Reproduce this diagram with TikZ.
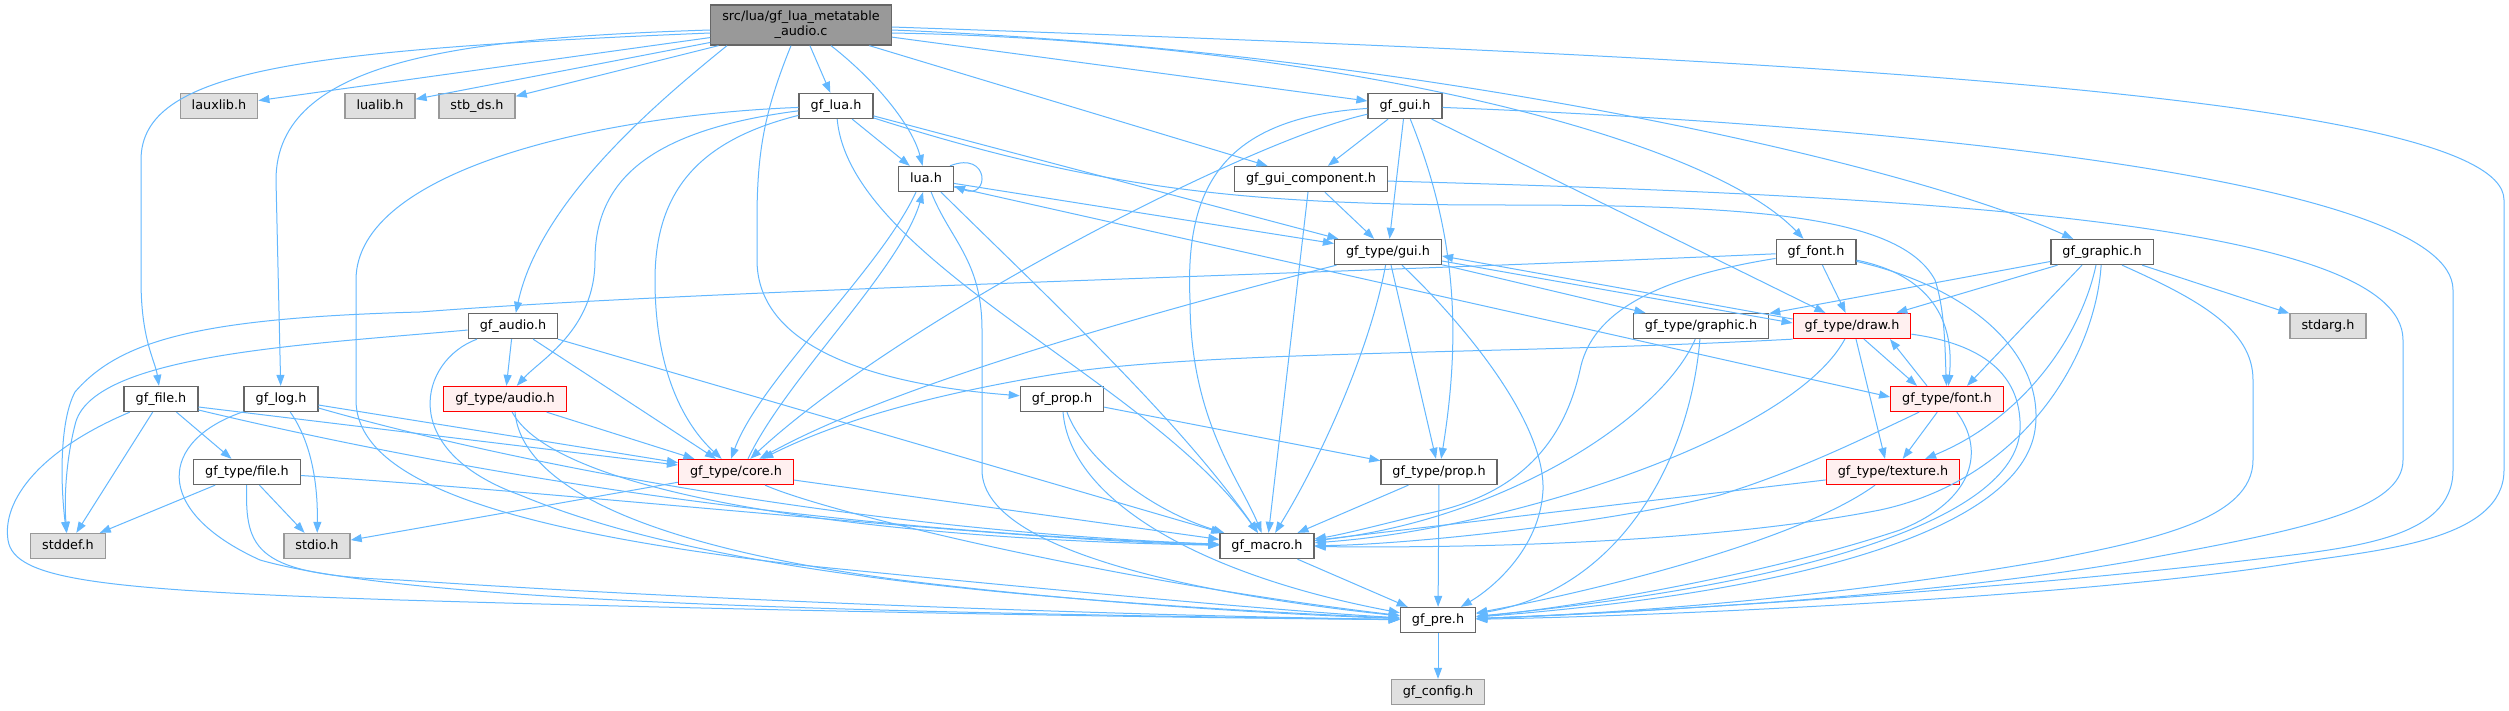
\documentclass[tikz,border=0pt]{standalone}
\usepackage{fontspec}
\setmainfont{DejaVu Sans}
\usepackage{tikz}
\usetikzlibrary{arrows.meta}
\definecolor{edgeblue}{HTML}{63B8FF}
\definecolor{boxline}{HTML}{666666}
\definecolor{rootfill}{HTML}{999999}
\definecolor{sysfill}{HTML}{E0E0E0}
\definecolor{sysline}{HTML}{999999}
\definecolor{cutfill}{HTML}{FFF0F0}
\definecolor{cutline}{HTML}{FF0000}

\tikzset{
  basebox/.style={draw=boxline, fill=white, line width=1.3pt,
    font=\fontsize{12.8}{15}\selectfont, inner xsep=11.5pt, inner ysep=0pt},
  hdr/.style={basebox, minimum height=25pt, text height=9.4pt, text depth=2.6pt},
  syshdr/.style={hdr, draw=sysline, fill=sysfill},
  cuthdr/.style={hdr, draw=cutline, fill=cutfill},
  roothdr/.style={basebox, fill=rootfill, align=center, minimum height=40pt},
  dep/.style={draw=edgeblue, line width=1pt, -{Triangle[length=11pt,width=8pt]}}
}

\begin{document}
\begin{tikzpicture}[x=1pt, y=-1pt]
  % page: 1 unit = 1 px of the graph
  \fill[white] (0,0) rectangle (2509,711);
  \useasboundingbox (0,0) rectangle (2509,711);

  % --- headers, row by row ---
  \node[roothdr] (R) at (801,25) {src/lua/gf\_lua\_metatable\\\_audio.c};
  \node[syshdr] (lauxlib) at (219,106) {lauxlib.h};
  \node[syshdr] (lualib) at (380,106) {lualib.h};
  \node[syshdr] (stbds) at (477,106) {stb\_ds.h};
  \node[hdr] (gflua) at (836,106) {gf\_lua.h};
  \node[hdr] (gfgui) at (1405,106) {gf\_gui.h};
  \node[hdr] (luah) at (926,179) {lua.h};
  \node[hdr] (gfguicomp) at (1311,179) {gf\_gui\_component.h};
  \node[hdr] (tgui) at (1388,252) {gf\_type/gui.h};
  \node[hdr] (gffont) at (1816,252) {gf\_font.h};
  \node[hdr] (gfgraphic) at (2102,252) {gf\_graphic.h};
  \node[hdr] (audio) at (513,326) {gf\_audio.h};
  \node[hdr] (tgraphic) at (1701,326) {gf\_type/graphic.h};
  \node[cuthdr] (tdraw) at (1852,326) {gf\_type/draw.h};
  \node[syshdr] (stdarg) at (2328,326) {stdarg.h};
  \node[hdr] (gffile) at (161,399) {gf\_file.h};
  \node[hdr] (gflog) at (281,399) {gf\_log.h};
  \node[cuthdr] (taudio) at (505,399) {gf\_type/audio.h};
  \node[hdr] (gfprop) at (1062,399) {gf\_prop.h};
  \node[cuthdr] (tfont) at (1947,399) {gf\_type/font.h};
  \node[hdr] (tfile) at (247,472) {gf\_type/file.h};
  \node[cuthdr] (tcore) at (736,472) {gf\_type/core.h};
  \node[hdr] (tprop) at (1439,472) {gf\_type/prop.h};
  \node[cuthdr] (ttexture) at (1893,472) {gf\_type/texture.h};
  \node[syshdr] (stddef) at (68,546) {stddef.h};
  \node[syshdr] (stdio) at (317,546) {stdio.h};
  \node[hdr] (gfmacro) at (1267,546) {gf\_macro.h};
  \node[hdr] (gfpre) at (1438,620) {gf\_pre.h};
  \node[syshdr] (gfconfig) at (1438,692) {gf\_config.h};

  % --- root file ---
  \draw[dep] (R) -- (lauxlib);
  \draw[dep] (R) -- (lualib);
  \draw[dep] (R) -- (stbds);
  \draw[dep] (R) -- (gflua);
  \draw[dep] ([xshift=30pt]R.south) .. controls (875,80) and (912,125) .. (luah);
  \draw[dep] (R) -- (gfguicomp);
  \draw[dep] (R) -- (gfgui);
  \draw[dep] ([yshift=-8pt]R.west) .. controls (300,50) and (141,70) .. (141,160)
    -- (141,280) .. controls (141,340) and (155,360) .. (gffile);
  \draw[dep] ([yshift=-5pt]R.west) .. controls (460,38) and (276,60) .. (276,180) -- (gflog);
  \draw[dep] ([xshift=-74pt]R.south) .. controls (660,100) and (540,200) .. (audio);
  \draw[dep] ([xshift=-10pt]R.south) .. controls (765,110) and (757,150) .. (757,220)
    -- (757,260) .. controls (757,350) and (880,385) .. (gfprop);
  \draw[dep] ([yshift=-8pt]R.east) .. controls (1300,40) and (1700,130) .. (gffont);
  \draw[dep] ([yshift=-5pt]R.east) .. controls (1400,50) and (1900,160) .. (gfgraphic);
  \draw[dep] ([yshift=-2pt]R.east) .. controls (1700,55) and (2504,90) .. (2504,200)
    -- (2504,470) .. controls (2504,540) and (2380,550) .. (2300,562)
    .. controls (2100,595) and (1700,615) .. (gfpre);

  % --- gf_lua.h ---
  \draw[dep] (gflua) -- (luah);
  \draw[dep] (gflua) -- (tgui);
  \draw[dep] (gflua) .. controls (1100,190) and (1250,205) .. (1500,205)
    .. controls (1750,205) and (1900,215) .. (1935,280)
    .. controls (1945,310) and (1945,350) .. (tfont);
  \draw[dep] (gflua) .. controls (700,140) and (655,190) .. (655,280)
    .. controls (655,380) and (690,430) .. (tcore);
  \draw[dep] (gflua) .. controls (650,130) and (595,180) .. (595,260)
    .. controls (595,330) and (540,360) .. (taudio);
  \draw[dep] (gflua) .. controls (600,115) and (356,170) .. (356,280) -- (356,400)
    .. controls (356,480) and (500,530) .. (800,565)
    .. controls (1100,595) and (1300,612) .. (gfpre);
  \draw[dep] (gflua) .. controls (850,260) and (1150,380) .. (gfmacro);

  % --- lua.h ---
  \draw[dep] ([xshift=-4pt]luah.north east) .. controls (990,150) and (990,200) .. ([yshift=-7pt]luah.east);
  \draw[dep] ([xshift=-10pt]luah.south) .. controls (880,270) and (760,380) .. ([xshift=-5pt]tcore.north);
  \draw[dep] (luah) .. controls (950,240) and (982,260) .. (982,330) -- (982,470)
    .. controls (982,560) and (1250,600) .. (gfpre);
  \draw[dep] ([xshift=15pt]luah.south) .. controls (1040,290) and (1180,420) .. (gfmacro);
  \draw[dep] (luah) -- (tgui);
  \draw[dep] ([yshift=-8pt]luah.east) -- ([yshift=2pt]tfont.west);

  % --- gf_gui.h ---
  \draw[dep] (gfgui) -- (gfguicomp);
  \draw[dep] (gfgui) -- (tgui);
  \draw[dep] (gfgui) .. controls (1455,230) and (1462,330) .. (tprop);
  \draw[dep] (gfgui) -- (tdraw);
  \draw[dep] (gfgui) .. controls (1900,125) and (2453,180) .. (2453,290) -- (2453,470)
    .. controls (2453,540) and (2350,548) .. (2250,560)
    .. controls (2000,590) and (1650,612) .. (gfpre);
  \draw[dep] (gfgui) .. controls (1250,140) and (900,320) .. (tcore);
  \draw[dep] (gfgui) .. controls (1220,118) and (1185,190) .. (1190,300)
    .. controls (1190,420) and (1240,480) .. (gfmacro);

  % --- gf_gui_component.h ---
  \draw[dep] (gfguicomp) -- (tgui);
  \draw[dep] ([xshift=-3pt]gfguicomp.south) -- (gfmacro);
  \draw[dep] (gfguicomp) .. controls (1900,195) and (2403,220) .. (2403,340) -- (2403,460)
    .. controls (2403,510) and (2300,530) .. (2150,558)
    .. controls (1950,595) and (1650,612) .. (gfpre);

  % --- gf_type/gui.h ---
  \draw[dep] (tgui) .. controls (1200,300) and (900,380) .. (tcore);
  \draw[dep] (tgui) .. controls (1370,350) and (1320,460) .. (gfmacro);
  \draw[dep] (tgui) -- (tprop);
  \draw[dep] (tgui) .. controls (1460,320) and (1545,420) .. (1543,490)
    .. controls (1540,550) and (1490,590) .. (gfpre);
  \draw[dep] (tgui) -- (tgraphic);
  \draw[dep] ([yshift=-9pt]tgui.east) -- ([yshift=3pt]tdraw.west);

  % --- gf_type/draw.h ---
  \draw[dep] ([yshift=7pt]tdraw.west) -- ([yshift=-4pt]tgui.east);
  \draw[dep] ([xshift=12pt]tdraw.south) -- ([xshift=-30pt]tfont.north);
  \draw[dep] ([xshift=4pt]tdraw.south) -- ([xshift=-8pt]ttexture.north);
  \draw[dep] (tdraw.south west) .. controls (1500,355) and (1200,350) .. (1050,375)
    .. controls (900,400) and (820,430) .. (tcore);
  \draw[dep] (tdraw) .. controls (1790,440) and (1500,530) .. (gfmacro);
  \draw[dep] (tdraw) .. controls (1990,345) and (2022,380) .. (2020,430)
    .. controls (2015,520) and (1800,585) .. (gfpre);

  % --- gf_type/graphic.h ---
  \draw[dep] (tgraphic) .. controls (1660,420) and (1500,520) .. (gfmacro);
  \draw[dep] (tgraphic) .. controls (1690,460) and (1620,590) .. (gfpre);

  % --- gf_font.h ---
  \draw[dep] (gffont) -- (tdraw);
  \draw[dep] (gffont) .. controls (1930,275) and (1955,320) .. (tfont);
  \draw[dep] (gffont) .. controls (1980,290) and (2045,360) .. (2035,430)
    .. controls (2020,530) and (1800,592) .. (gfpre);
  \draw[dep] (gffont) .. controls (1640,280) and (1590,320) .. (1580,370)
    .. controls (1560,460) and (1500,500) .. (1420,515)
    .. controls (1380,525) and (1340,535) .. (gfmacro);
  \draw[dep] (gffont) .. controls (1300,275) and (700,290) .. (420,312)
    .. controls (200,318) and (120,340) .. (75,392)
    .. controls (60,420) and (60,480) .. (stddef);

  % --- gf_graphic.h ---
  \draw[dep] (gfgraphic) -- (tgraphic);
  \draw[dep] (gfgraphic) -- (tdraw);
  \draw[dep] (gfgraphic) -- (stdarg);
  \draw[dep] ([xshift=-20pt]gfgraphic.south) -- ([xshift=20pt]tfont.north);
  \draw[dep] ([xshift=-6pt]gfgraphic.south) .. controls (2080,340) and (2020,420) .. (ttexture);
  \draw[dep] (gfgraphic) .. controls (2095,360) and (2020,480) .. (1880,510)
    .. controls (1700,545) and (1450,548) .. (gfmacro);
  \draw[dep] ([xshift=20pt]gfgraphic.south) .. controls (2200,300) and (2253,330) .. (2253,380)
    -- (2253,460) .. controls (2253,520) and (2150,540) .. (2050,560)
    .. controls (1850,595) and (1650,612) .. (gfpre);

  % --- gf_audio.h ---
  \draw[dep] (audio) -- (taudio);
  \draw[dep] (audio) -- (tcore);
  \draw[dep] (audio) -- (gfmacro);
  \draw[dep] (audio) .. controls (300,345) and (90,355) .. (75,425)
    .. controls (66,460) and (64,500) .. (stddef);
  \draw[dep] (audio) .. controls (420,360) and (395,450) .. (520,495)
    .. controls (700,570) and (1000,600) .. (gfpre);

  % --- gf_file.h ---
  \draw[dep] (gffile) -- (tfile);
  \draw[dep] (gffile) -- (stddef);
  \draw[dep] ([yshift=-8pt]gffile.east) -- (tcore);
  \draw[dep] ([yshift=-11pt]gffile.east) .. controls (450,470) and (800,530) .. (gfmacro);
  \draw[dep] (gffile) .. controls (40,450) and (2,500) .. (8,540)
    .. controls (14,580) and (100,590) .. (400,600)
    .. controls (800,612) and (1200,618) .. (gfpre);

  % --- gf_log.h ---
  \draw[dep] (gflog) .. controls (310,440) and (318,480) .. (stdio);
  \draw[dep] (gflog) -- (tcore);
  \draw[dep] ([yshift=-9pt]gflog.east) .. controls (500,460) and (850,530) .. (gfmacro);
  \draw[dep] (gflog) .. controls (160,440) and (150,510) .. (260,560)
    .. controls (400,600) and (800,612) .. (gfpre);

  % --- gf_type/audio.h ---
  \draw[dep] (taudio) -- (tcore);
  \draw[dep] (taudio) .. controls (560,500) and (900,540) .. (gfmacro);
  \draw[dep] ([xshift=10pt]taudio.south) .. controls (520,470) and (600,540) .. (900,580)
    .. controls (1100,605) and (1300,615) .. (gfpre);

  % --- gf_type/file.h ---
  \draw[dep] (tfile) -- (stddef);
  \draw[dep] (tfile) -- (stdio);
  \draw[dep] (tfile) .. controls (600,495) and (1000,540) .. (gfmacro);
  \draw[dep] (tfile) .. controls (245,550) and (255,575) .. (400,580)
    .. controls (700,600) and (1100,615) .. (gfpre);

  % --- gf_type/core.h ---
  \draw[dep] ([xshift=12pt]tcore.north) .. controls (785,380) and (900,270) .. ([xshift=-3pt]luah.south);
  \draw[dep] (tcore) -- (stdio);
  \draw[dep] (tcore) -- (gfmacro);
  \draw[dep] (tcore) .. controls (820,510) and (1100,580) .. (gfpre);

  % --- gf_prop.h ---
  \draw[dep] (gfprop) -- (tprop);
  \draw[dep] (gfprop) .. controls (1085,460) and (1150,510) .. (gfmacro);
  \draw[dep] (gfprop) .. controls (1070,500) and (1200,575) .. (gfpre);

  % --- gf_type/prop.h, texture.h, font.h ---
  \draw[dep] (tprop) -- (gfmacro);
  \draw[dep] (tprop) -- (gfpre);
  \draw[dep] (ttexture) -- (gfmacro);
  \draw[dep] (ttexture) .. controls (1800,540) and (1600,590) .. (gfpre);
  \draw[dep] (tfont) -- (ttexture);
  \draw[dep] ([xshift=-20pt]tfont.north) -- ([xshift=38pt]tdraw.south);
  \draw[dep] (tfont) .. controls (1860,440) and (1800,470) .. (1720,495)
    .. controls (1600,525) and (1400,545) .. (gfmacro);
  \draw[dep] (tfont) .. controls (1985,450) and (1975,500) .. (1900,530)
    .. controls (1750,580) and (1550,610) .. (gfpre);

  % --- bottom ---
  \draw[dep] (gfmacro) -- (gfpre);
  \draw[dep] (gfpre) -- (gfconfig);

\end{tikzpicture}
\end{document}
